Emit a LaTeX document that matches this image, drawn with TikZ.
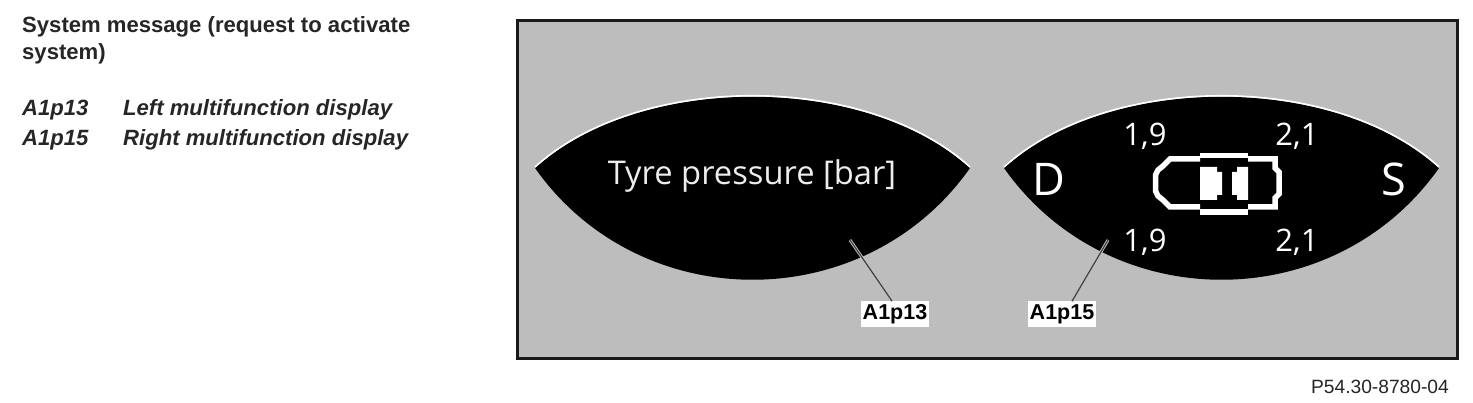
\documentclass[tikz,border=0pt]{standalone}
\usepackage{fontspec}
\setmainfont{Liberation Sans}
\newfontfamily\dispfont{Open Sans}
\definecolor{panelgray}{HTML}{BDBDBD}
\definecolor{disptext}{HTML}{EDEDED}
\tikzset{
  heading/.style={anchor=west,inner sep=0pt,font=\fontsize{22.1}{25}\selectfont\bfseries,text=black!85},
  legend/.style={anchor=west,inner sep=0pt,font=\fontsize{22.1}{25}\selectfont\bfseries\itshape,text=black!85},
  disp/.style={inner sep=0pt,text=disptext,font=\dispfont\fontsize{32.7}{36}\selectfont},
  value/.style={inner sep=0pt,text=white,font=\dispfont\fontsize{31}{36}\selectfont},
  gear/.style={inner sep=0pt,text=white,font=\dispfont\fontsize{45}{48}\selectfont},
  callout/.style={fill=white,inner xsep=2pt,inner ysep=3pt,font=\fontsize{21.5}{22}\selectfont\bfseries},
  leader/.style={line width=1.2pt,black!75},
  halo/.style={line width=3pt,white!75!black},
  carline/.style={draw=white,line width=5.5pt,miter limit=2}
}
\begin{document}
\begin{tikzpicture}[x=1pt,y=-1pt]
\useasboundingbox (0,0) rectangle (1473,403);
\fill[white] (0,0) rectangle (1473,403);
% left text
\node[heading] (h1) at (22,27) {System message (request to activate};
\node[heading] (h2) at (22,54) {system)};
\node[legend] (l1) at (22,110) {A1p13};
\node[legend] (l1t) at (123,110) {Left multifunction display};
\node[legend] (l2) at (22,140) {A1p15};
\node[legend] (l2t) at (123,140) {Right multifunction display};
% panel
\draw[line width=3pt,fill=panelgray,draw=black!90] (517,21) rectangle (1457,359);
% left display
\fill[black] (535,168) .. controls (640,73) and (865,73) .. (970,168)
  .. controls (865,317) and (640,317) .. cycle;
\draw[white,line width=1.6pt] (535,167) .. controls (640,72) and (865,72) .. (970,167);
% right display
\fill[black] (1004,168) .. controls (1109,73) and (1334,73) .. (1439,168)
  .. controls (1334,317) and (1109,317) .. cycle;
\draw[white,line width=1.6pt] (1004,167) .. controls (1109,72) and (1334,72) .. (1439,167);
% display text
\node[disp] (tp) at (752,176) {Tyre pressure [bar]};
\node[gear] (gd) at (1049,179) {D};
\node[gear] (gs) at (1394,179) {S};
\node[value] (fl) at (1145,136) {1,9};
\node[value] (fr) at (1297,136) {2,1};
\node[value] (rl) at (1145,242) {1,9};
\node[value] (rr) at (1297,242) {2,1};
% car icon
\draw[carline] (1200,159) -- (1170,159) -- (1163,166) -- (1158,170) -- (1155.5,175) -- (1155.5,191) -- (1158,196) -- (1163,200) -- (1170,207) -- (1200,207);
\draw[carline] (1248,159) -- (1275,159) -- (1275,168) -- (1279,172) -- (1279,194) -- (1275,198) -- (1275,207) -- (1248,207);
\draw[carline] (1200,155.5) -- (1248,155.5);
\draw[carline] (1200,212) -- (1248,212);
\fill[white] (1200,167) -- (1217,167) -- (1217,172) -- (1222,172) -- (1222,195) -- (1217,195) -- (1217,200) -- (1200,200) -- cycle;
\fill[white] (1248,167) -- (1237,167) -- (1237,172) -- (1232,172) -- (1232,195) -- (1237,195) -- (1237,200) -- (1248,200) -- cycle;
% callouts
\node[callout] (c13) at (895,314) {A1p13};
\node[callout] (c15) at (1062,314) {A1p15};
\coordinate (e13) at (850,240);
\coordinate (e15) at (1108,240);
\draw[halo] (e13) -- ([xshift=-3pt]c13.north);
\draw[leader] (e13) -- ([xshift=-3pt]c13.north);
\draw[halo] (e15) -- ([xshift=10pt]c15.north);
\draw[leader] (e15) -- ([xshift=10pt]c15.north);
% ref
\node[inner sep=0pt,anchor=east,font=\fontsize{19.2}{20}\selectfont,text=black!85] (ref) at (1449,387) {P54.30-8780-04};
\end{tikzpicture}
\end{document}
